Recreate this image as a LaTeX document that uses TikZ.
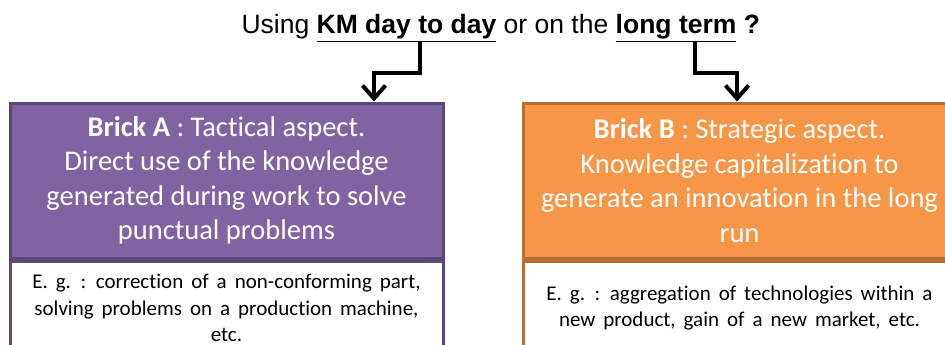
\documentclass[tikz,border=0pt]{standalone}
\usepackage{fontspec}
\setmainfont{Carlito}[Ligatures=NoCommon]
\newfontfamily\arialfont{Liberation Sans}
\usetikzlibrary{positioning,arrows.meta}

\definecolor{brickApurple}{HTML}{8064A2}
\definecolor{brickAborder}{HTML}{5C4776}
\definecolor{brickBorange}{HTML}{F79646}
\definecolor{brickBborder}{HTML}{B66D31}

\begin{document}
\begin{tikzpicture}[x=1pt,y=-1pt, node distance=7pt,
    word/.style = {inner sep=0pt, font=\arialfont\fontsize{26.5}{30}\selectfont},
    brick/.style = {shape=rectangle, draw, line width=3pt, align=center,
      minimum width=433pt, minimum height=155pt, text=white,
      font=\fontsize{28.5}{34.5}\selectfont},
    example/.style = {shape=rectangle, draw, line width=3pt, align=center,
      fill=white, minimum width=433pt, minimum height=94pt,
      font=\fontsize{21}{26.5}\selectfont,
      execute at begin node={\spaceskip=8pt plus 2pt\relax}},
    arr/.style = {line width=4pt, -{Straight Barb[length=13pt,width=23pt]}}]
    \path[use as bounding box] (0,0) rectangle (945,345);
    \clip (0,0) rectangle (945,345);

    % question line
    \node[word] (km) at (406.5,28) {\underline{\textbf{KM day to day}}};
    \node[word, base left=of km] (using) {Using};
    \node[word, base right=of km] (orthe) {or on the};
    \node[word, base right=of orthe] (lt) {\underline{\textbf{long term}}};
    \node[word, base right=of lt] (q) {\textbf{?}};

    % the two bricks
    \node[brick, fill=brickApurple, draw=brickAborder] (brickA) at (226.5,180.5)
      {\textbf{Brick A} : Tactical aspect.\\ Direct use of the knowledge\\
       generated during work to solve\\ punctual problems};
    \node[example, draw=brickAborder, below=0pt of brickA] (egA)
      {E. g. : correction of a non-conforming part,\\
       solving problems on a production machine,\\ etc.};
    \node[brick, fill=brickBorange, draw=brickBborder] (brickB) at (739.5,180.5)
      {\textbf{Brick B} : Strategic aspect.\\ Knowledge capitalization to\\
       generate an innovation in the long\\ run};
    \node[example, draw=brickBborder, below=0pt of brickB] (egB)
      {E. g. : aggregation of technologies within a\\
       new product, gain of a new market, etc.};

    % arrows
    \draw[arr] ([xshift=13.5pt]km.south) -- ++(0,31) -| (brickA.north -| 374,0);
    \draw[arr] ([xshift=18.5pt]lt.south) -- ++(0,31) -| (brickB.north -| 737,0);
\end{tikzpicture}
\end{document}
